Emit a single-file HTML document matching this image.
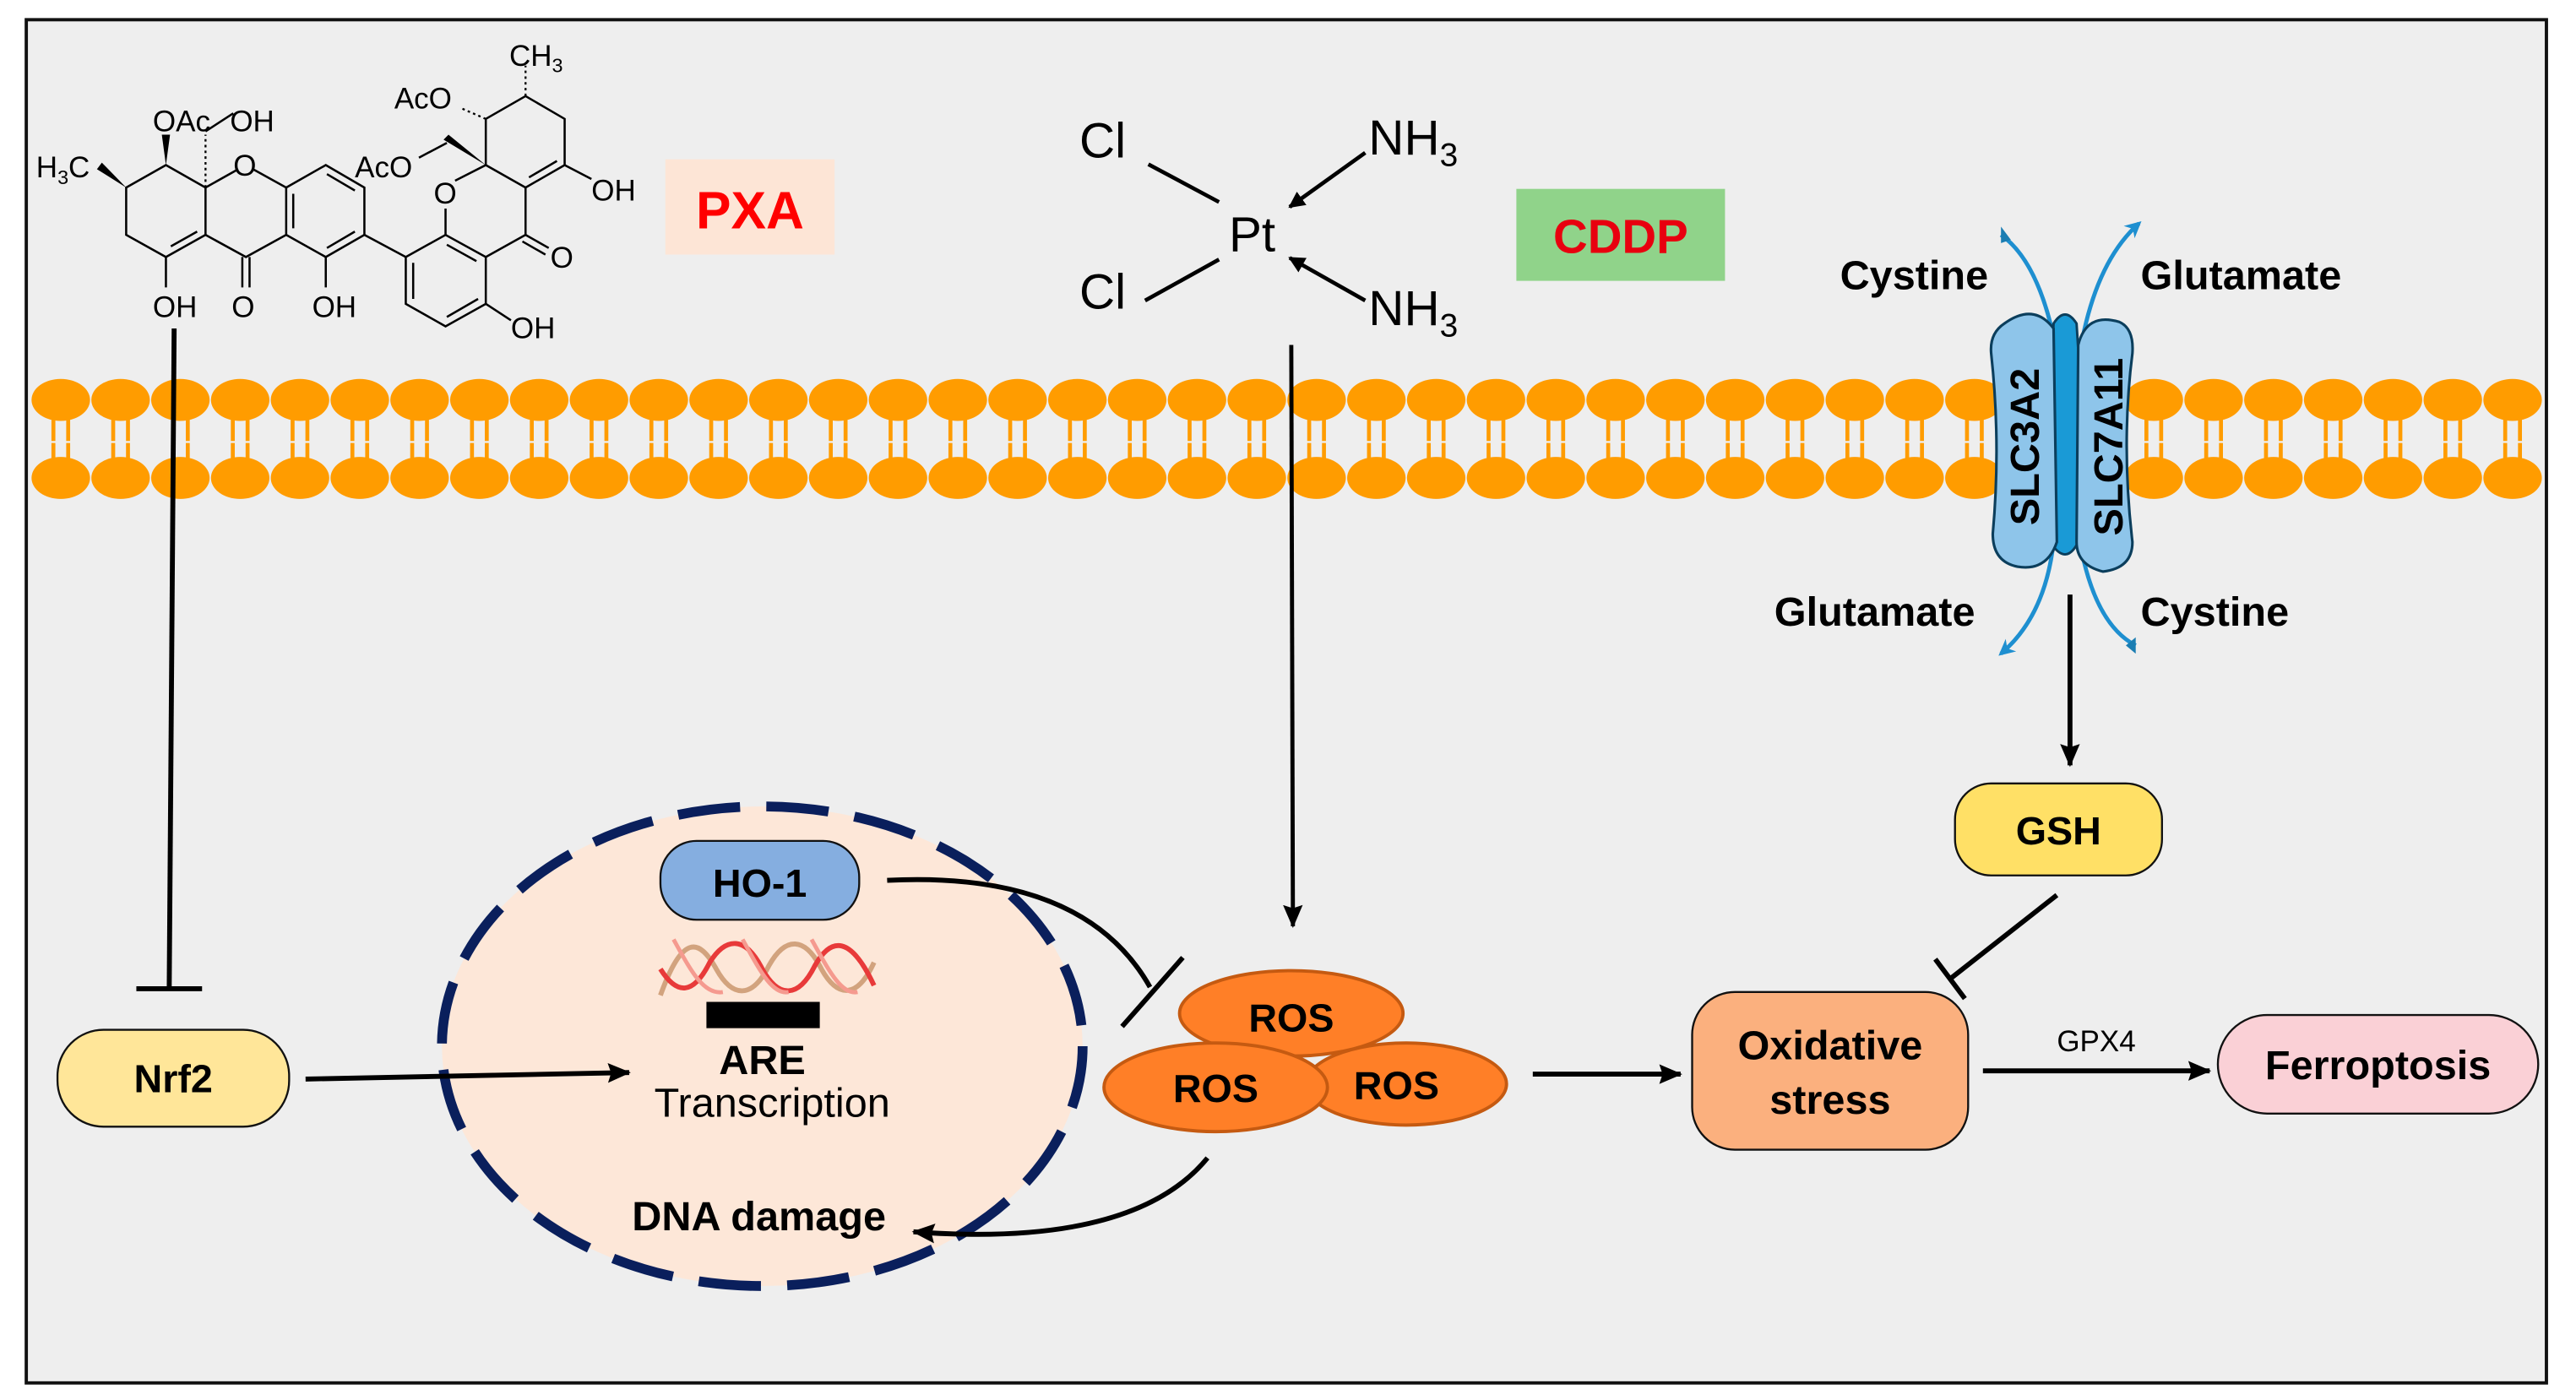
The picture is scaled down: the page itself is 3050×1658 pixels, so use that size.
<!DOCTYPE html>
<html><head><meta charset="utf-8"><style>
html,body{margin:0;padding:0;background:#fff;}
svg{display:block;}
text{font-family:"Liberation Sans",Arial,sans-serif;}
</style></head><body>
<svg width="3050" height="1658" viewBox="0 0 1568 852.4" preserveAspectRatio="none" xmlns="http://www.w3.org/2000/svg">
<defs>
<marker id="ah" markerWidth="10" markerHeight="10" refX="9" refY="5" orient="auto" markerUnits="userSpaceOnUse" viewBox="0 0 10 10"><path d="M0,0 L10,5 L0,10 z" fill="#000"/></marker>
<marker id="ahs" markerWidth="14" markerHeight="12" refX="13" refY="6" orient="auto" markerUnits="userSpaceOnUse" viewBox="0 0 14 12"><path d="M0,0 L14,6 L0,12 L2,6 z" fill="#000"/></marker>
<marker id="bh" markerWidth="10" markerHeight="10" refX="8" refY="5" orient="auto" markerUnits="userSpaceOnUse" viewBox="0 0 10 10"><path d="M0,0 L10,5 L0,10 L3,5 z" fill="#1E8FD0"/></marker>
</defs>
<rect x="0" y="0" width="1568" height="852.4" fill="#fff"/>
<rect x="16" y="12" width="1534" height="830" fill="#eeeeee" stroke="#111" stroke-width="2"/>

<g fill="#FF9C00">
<ellipse cx="37" cy="243.5" rx="17.8" ry="12.8"/><ellipse cx="37" cy="291" rx="17.8" ry="12.8"/>
<ellipse cx="73.4" cy="243.5" rx="17.8" ry="12.8"/><ellipse cx="73.4" cy="291" rx="17.8" ry="12.8"/>
<ellipse cx="109.8" cy="243.5" rx="17.8" ry="12.8"/><ellipse cx="109.8" cy="291" rx="17.8" ry="12.8"/>
<ellipse cx="146.2" cy="243.5" rx="17.8" ry="12.8"/><ellipse cx="146.2" cy="291" rx="17.8" ry="12.8"/>
<ellipse cx="182.6" cy="243.5" rx="17.8" ry="12.8"/><ellipse cx="182.6" cy="291" rx="17.8" ry="12.8"/>
<ellipse cx="219" cy="243.5" rx="17.8" ry="12.8"/><ellipse cx="219" cy="291" rx="17.8" ry="12.8"/>
<ellipse cx="255.4" cy="243.5" rx="17.8" ry="12.8"/><ellipse cx="255.4" cy="291" rx="17.8" ry="12.8"/>
<ellipse cx="291.8" cy="243.5" rx="17.8" ry="12.8"/><ellipse cx="291.8" cy="291" rx="17.8" ry="12.8"/>
<ellipse cx="328.2" cy="243.5" rx="17.8" ry="12.8"/><ellipse cx="328.2" cy="291" rx="17.8" ry="12.8"/>
<ellipse cx="364.6" cy="243.5" rx="17.8" ry="12.8"/><ellipse cx="364.6" cy="291" rx="17.8" ry="12.8"/>
<ellipse cx="401" cy="243.5" rx="17.8" ry="12.8"/><ellipse cx="401" cy="291" rx="17.8" ry="12.8"/>
<ellipse cx="437.4" cy="243.5" rx="17.8" ry="12.8"/><ellipse cx="437.4" cy="291" rx="17.8" ry="12.8"/>
<ellipse cx="473.8" cy="243.5" rx="17.8" ry="12.8"/><ellipse cx="473.8" cy="291" rx="17.8" ry="12.8"/>
<ellipse cx="510.2" cy="243.5" rx="17.8" ry="12.8"/><ellipse cx="510.2" cy="291" rx="17.8" ry="12.8"/>
<ellipse cx="546.6" cy="243.5" rx="17.8" ry="12.8"/><ellipse cx="546.6" cy="291" rx="17.8" ry="12.8"/>
<ellipse cx="583" cy="243.5" rx="17.8" ry="12.8"/><ellipse cx="583" cy="291" rx="17.8" ry="12.8"/>
<ellipse cx="619.4" cy="243.5" rx="17.8" ry="12.8"/><ellipse cx="619.4" cy="291" rx="17.8" ry="12.8"/>
<ellipse cx="655.8" cy="243.5" rx="17.8" ry="12.8"/><ellipse cx="655.8" cy="291" rx="17.8" ry="12.8"/>
<ellipse cx="692.2" cy="243.5" rx="17.8" ry="12.8"/><ellipse cx="692.2" cy="291" rx="17.8" ry="12.8"/>
<ellipse cx="728.6" cy="243.5" rx="17.8" ry="12.8"/><ellipse cx="728.6" cy="291" rx="17.8" ry="12.8"/>
<ellipse cx="765" cy="243.5" rx="17.8" ry="12.8"/><ellipse cx="765" cy="291" rx="17.8" ry="12.8"/>
<ellipse cx="801.4" cy="243.5" rx="17.8" ry="12.8"/><ellipse cx="801.4" cy="291" rx="17.8" ry="12.8"/>
<ellipse cx="837.8" cy="243.5" rx="17.8" ry="12.8"/><ellipse cx="837.8" cy="291" rx="17.8" ry="12.8"/>
<ellipse cx="874.2" cy="243.5" rx="17.8" ry="12.8"/><ellipse cx="874.2" cy="291" rx="17.8" ry="12.8"/>
<ellipse cx="910.6" cy="243.5" rx="17.8" ry="12.8"/><ellipse cx="910.6" cy="291" rx="17.8" ry="12.8"/>
<ellipse cx="947" cy="243.5" rx="17.8" ry="12.8"/><ellipse cx="947" cy="291" rx="17.8" ry="12.8"/>
<ellipse cx="983.4" cy="243.5" rx="17.8" ry="12.8"/><ellipse cx="983.4" cy="291" rx="17.8" ry="12.8"/>
<ellipse cx="1019.8" cy="243.5" rx="17.8" ry="12.8"/><ellipse cx="1019.8" cy="291" rx="17.8" ry="12.8"/>
<ellipse cx="1056.2" cy="243.5" rx="17.8" ry="12.8"/><ellipse cx="1056.2" cy="291" rx="17.8" ry="12.8"/>
<ellipse cx="1092.6" cy="243.5" rx="17.8" ry="12.8"/><ellipse cx="1092.6" cy="291" rx="17.8" ry="12.8"/>
<ellipse cx="1129" cy="243.5" rx="17.8" ry="12.8"/><ellipse cx="1129" cy="291" rx="17.8" ry="12.8"/>
<ellipse cx="1165.4" cy="243.5" rx="17.8" ry="12.8"/><ellipse cx="1165.4" cy="291" rx="17.8" ry="12.8"/>
<ellipse cx="1201.8" cy="243.5" rx="17.8" ry="12.8"/><ellipse cx="1201.8" cy="291" rx="17.8" ry="12.8"/>
<ellipse cx="1311" cy="243.5" rx="17.8" ry="12.8"/><ellipse cx="1311" cy="291" rx="17.8" ry="12.8"/>
<ellipse cx="1347.4" cy="243.5" rx="17.8" ry="12.8"/><ellipse cx="1347.4" cy="291" rx="17.8" ry="12.8"/>
<ellipse cx="1383.8" cy="243.5" rx="17.8" ry="12.8"/><ellipse cx="1383.8" cy="291" rx="17.8" ry="12.8"/>
<ellipse cx="1420.2" cy="243.5" rx="17.8" ry="12.8"/><ellipse cx="1420.2" cy="291" rx="17.8" ry="12.8"/>
<ellipse cx="1456.6" cy="243.5" rx="17.8" ry="12.8"/><ellipse cx="1456.6" cy="291" rx="17.8" ry="12.8"/>
<ellipse cx="1493" cy="243.5" rx="17.8" ry="12.8"/><ellipse cx="1493" cy="291" rx="17.8" ry="12.8"/>
<ellipse cx="1529.4" cy="243.5" rx="17.8" ry="12.8"/><ellipse cx="1529.4" cy="291" rx="17.8" ry="12.8"/>
</g>
<g stroke="#FF9C00" stroke-width="2.4" stroke-dasharray="13.5 1.2 13.5">
<path d="M32.5,255V284M41.5,255V284M68.9,255V284M77.9,255V284M105.3,255V284M114.3,255V284M141.7,255V284M150.7,255V284M178.1,255V284M187.1,255V284M214.5,255V284M223.5,255V284M250.9,255V284M259.9,255V284M287.3,255V284M296.3,255V284M323.7,255V284M332.7,255V284M360.1,255V284M369.1,255V284M396.5,255V284M405.5,255V284M432.9,255V284M441.9,255V284M469.3,255V284M478.3,255V284M505.7,255V284M514.7,255V284M542.1,255V284M551.1,255V284M578.5,255V284M587.5,255V284M614.9,255V284M623.9,255V284M651.3,255V284M660.3,255V284M687.7,255V284M696.7,255V284M724.1,255V284M733.1,255V284M760.5,255V284M769.5,255V284M796.9,255V284M805.9,255V284M833.3,255V284M842.3,255V284M869.7,255V284M878.7,255V284M906.1,255V284M915.1,255V284M942.5,255V284M951.5,255V284M978.9,255V284M987.9,255V284M1015.3,255V284M1024.3,255V284M1051.7,255V284M1060.7,255V284M1088.1,255V284M1097.1,255V284M1124.5,255V284M1133.5,255V284M1160.9,255V284M1169.9,255V284M1197.3,255V284M1206.3,255V284M1306.5,255V284M1315.5,255V284M1342.9,255V284M1351.9,255V284M1379.3,255V284M1388.3,255V284M1415.7,255V284M1424.7,255V284M1452.1,255V284M1461.1,255V284M1488.5,255V284M1497.5,255V284M1524.9,255V284M1533.9,255V284"/>
</g>

<!-- PXA molecule -->
<g stroke="#000" stroke-width="1.3" fill="none">
<path d="M76.8,114.2 L101,100.5 L125.1,114.2 L125.1,143 L101,156.5 L76.8,143 Z"/>
<path d="M104,150 L120,141"/>
<path d="M125.1,114.2 L145,103 M154,103 L174.2,114.2 L174.2,143 L149.7,156.5 L125.1,143"/>
<path d="M174.2,114.2 L198.3,100.5 L221.8,114.2 L221.8,143 L198.3,156.5 L174.2,143"/>
<path d="M199,106 L216,116 M178.5,118 L178.5,139 M199,151 L216,141"/>
<path d="M221.8,143 L247,156.5"/>
<path d="M247,156.5 L271.2,143 L295.7,156.5 L295.7,185 L271.2,198.7 L247,185 Z"/>
<path d="M272,149 L290,159 M251.5,160 L251.5,182 M272,193 L291,182"/>
<path d="M271.2,143 L271.2,127 M277,110 L295.7,100.5 L319.9,114.2 L319.9,143 L295.7,156.5"/>
<path d="M295.7,100.5 L295.7,72.4 L319.9,58.5 L343.7,72.4 L343.7,100.5 L319.9,114.2"/>
<path d="M322,108 L339,98"/>
<path d="M101,156.5 L101,175 M147.5,156.5 L147.5,175 M151.9,156.5 L151.9,175 M198.3,156.5 L198.3,175"/>
<path d="M319.9,143 L334,151 M318,147 L332,155"/>
<path d="M343.7,100.5 L360,109"/>
<path d="M295.7,185 L311,195"/>
<path d="M272,87 L255,96"/>
<path d="M125.1,80 L142,69"/>
</g>
<g stroke="#000" stroke-width="1.2" stroke-dasharray="1.5 2">
<path d="M319.9,58.5 L319.9,40"/>
<path d="M125.1,114.2 L125.1,82"/>
<path d="M295.7,72.4 L281,66"/>
</g>
<g fill="#000">
<path d="M76.8,114.2 L59,103 L62,99 Z"/>
<path d="M101,100.5 L98.5,82 L103.5,82 Z"/>
<path d="M295.7,100.5 L270,85 L273,82 Z"/>
</g>
<g font-size="18" fill="#000">
<text x="22" y="108">H<tspan font-size="12" dy="4">3</tspan><tspan dy="-4">C</tspan></text>
<text x="93" y="80">OAc</text>
<text x="140" y="80">OH</text>
<text x="142" y="107">O</text>
<text x="93" y="193">OH</text>
<text x="141" y="193">O</text>
<text x="190" y="193">OH</text>
<text x="216" y="108">AcO</text>
<text x="240" y="66">AcO</text>
<text x="310" y="40">CH<tspan font-size="12" dy="4">3</tspan></text>
<text x="264" y="124">O</text>
<text x="360" y="122">OH</text>
<text x="335" y="163">O</text>
<text x="311" y="206">OH</text>
</g>
<rect x="405" y="97" width="103" height="58" fill="#FDE5D6"/>
<text x="456.5" y="139" font-size="32" font-weight="bold" fill="#F00" text-anchor="middle">PXA</text>

<!-- CDDP -->
<g font-size="30" fill="#000">
<text x="657" y="96">Cl</text>
<text x="657" y="188">Cl</text>
<text x="748" y="153">Pt</text>
<text x="833" y="94">NH<tspan font-size="20" dy="7">3</tspan></text>
<text x="833" y="198">NH<tspan font-size="20" dy="7">3</tspan></text>
</g>
<g stroke="#000" stroke-width="2.4" fill="none">
<path d="M699,100 L742,123"/>
<path d="M697,183 L742,158"/>
<path d="M831,93 L785,126" marker-end="url(#ah)"/>
<path d="M831,183 L785,157" marker-end="url(#ah)"/>
</g>
<rect x="923" y="115" width="127" height="56" fill="#90D38A"/>
<text x="986.5" y="154" font-size="29" font-weight="bold" fill="#E8000F" text-anchor="middle">CDDP</text>

<!-- nucleus -->
<ellipse cx="464" cy="637" rx="195" ry="146" fill="#FDE7D8" stroke="#0A1F5C" stroke-width="6" stroke-dasharray="38 16"/>
<rect x="402" y="512" width="121" height="48" rx="22" fill="#85AEE0" stroke="#111" stroke-width="1.2"/>
<text x="462.5" y="546" font-size="24" font-weight="bold" text-anchor="middle">HO-1</text>
<g fill="none" stroke-width="3">
<path d="M402,606 C415,570 425,570 436,590 C446,608 458,608 468,588 C478,570 490,570 500,590 C510,608 522,608 532,586" stroke="#D2A37E"/>
<path d="M402,590 C412,606 422,606 432,586 C442,570 454,570 464,590 C474,608 486,608 496,588 C506,570 518,570 532,600" stroke="#E83A3A"/>
<path d="M410,572 C420,590 428,606 440,604 M452,572 C462,590 470,606 480,604 M494,572 C504,590 512,606 522,604" stroke="#F59A8F" stroke-width="2.5"/>
</g>
<rect x="430" y="610" width="69" height="16" fill="#000"/>
<text x="464" y="654" font-size="25" font-weight="bold" text-anchor="middle">ARE</text>
<text x="470" y="680" font-size="25" text-anchor="middle">Transcription</text>
<text x="462" y="749" font-size="25" font-weight="bold" text-anchor="middle">DNA damage</text>

<!-- connectors -->
<g stroke="#000" stroke-width="3" fill="none">
<path d="M106,200 L103,602"/>
<path d="M83,602 L123,602"/>
<path d="M786,210 L787,564" stroke-width="2.5" marker-end="url(#ahs)"/>
<path d="M186,657 L383,653" marker-end="url(#ahs)"/>
<path d="M933,654 L1023,654" marker-end="url(#ahs)"/>
<path d="M1207,652 L1345,652" marker-end="url(#ahs)"/>
<path d="M1260,362 L1260,466" marker-end="url(#ahs)"/>
<path d="M1252,545 L1187,596"/>
<path d="M1178,584 L1196,608"/>
<path d="M540,536 Q660,530 700,601"/>
<path d="M720,583 L683,625"/>
<path d="M735,705 Q690,760 556,750" marker-end="url(#ahs)"/>
</g>

<!-- Nrf2 -->
<rect x="35" y="627" width="141" height="59" rx="28" fill="#FFE699" stroke="#111" stroke-width="1.2"/>
<text x="105.5" y="665" font-size="24" font-weight="bold" text-anchor="middle">Nrf2</text>

<!-- ROS -->
<g stroke="#C55A11" stroke-width="2" fill="#FF7F27">
<ellipse cx="786" cy="617" rx="68" ry="26"/>
<ellipse cx="856" cy="660" rx="61" ry="25"/>
<ellipse cx="740" cy="662" rx="68" ry="27"/>
</g>
<g font-size="24" font-weight="bold" text-anchor="middle">
<text x="786" y="628">ROS</text>
<text x="740" y="671">ROS</text>
<text x="850" y="669">ROS</text>
</g>

<!-- GSH, oxidative, ferroptosis -->
<rect x="1190" y="477" width="126" height="56" rx="22" fill="#FFE066" stroke="#111" stroke-width="1.2"/>
<text x="1253" y="514" font-size="24" font-weight="bold" text-anchor="middle">GSH</text>
<rect x="1030" y="604" width="168" height="96" rx="26" fill="#FBB07E" stroke="#111" stroke-width="1.2"/>
<text x="1114" y="645" font-size="25" font-weight="bold" text-anchor="middle">Oxidative</text>
<text x="1114" y="678" font-size="25" font-weight="bold" text-anchor="middle">stress</text>
<text x="1276" y="640" font-size="18" text-anchor="middle">GPX4</text>
<rect x="1350" y="618" width="195" height="60" rx="30" fill="#FAD0D6" stroke="#111" stroke-width="1.2"/>
<text x="1447.5" y="657" font-size="25" font-weight="bold" text-anchor="middle">Ferroptosis</text>

<!-- transporter -->
<g stroke="#1E8FD0" stroke-width="2.5" fill="none">
<path d="M1218,143 Q1242,160 1252,215"/>
<path d="M1266,215 Q1275,160 1302,136" marker-end="url(#bh)"/>
<path d="M1250,330 Q1245,375 1218,398" marker-end="url(#bh)"/>
<path d="M1266,330 Q1275,380 1300,393"/>
</g>
<path d="M1218,138 L1218,148 L1224,146 Z M1300,388 L1300,398 L1294,393 Z" fill="#1A7DB2"/>
<path d="M1250,197 Q1257,186 1264,197 L1268,260 L1266,328 Q1258,346 1248,330 L1247,260 Z" fill="#1A9AD6" stroke="#0B3E5C" stroke-width="1.5"/>
<path d="M1220,197 Q1238,184 1250,200 L1252,330 Q1246,348 1228,345 Q1213,342 1213,325 Q1218,270 1212,215 Q1211,203 1220,197 Z" fill="#8EC5EA" stroke="#0B3E5C" stroke-width="1.6"/>
<path d="M1290,196 Q1299,200 1298,215 Q1291,270 1298,330 Q1298,346 1280,348 Q1264,344 1264,330 L1265,210 Q1270,190 1290,196 Z" fill="#8EC5EA" stroke="#0B3E5C" stroke-width="1.6"/>
<text transform="translate(1241,272) rotate(-90)" font-size="25" font-weight="bold" text-anchor="middle">SLC3A2</text>
<text transform="translate(1292,272) rotate(-90)" font-size="25" font-weight="bold" text-anchor="middle">SLC7A11</text>
<g font-size="25" font-weight="bold">
<text x="1120" y="176">Cystine</text>
<text x="1303" y="176">Glutamate</text>
<text x="1080" y="381">Glutamate</text>
<text x="1303" y="381">Cystine</text>
</g>
</svg>
</body></html>
